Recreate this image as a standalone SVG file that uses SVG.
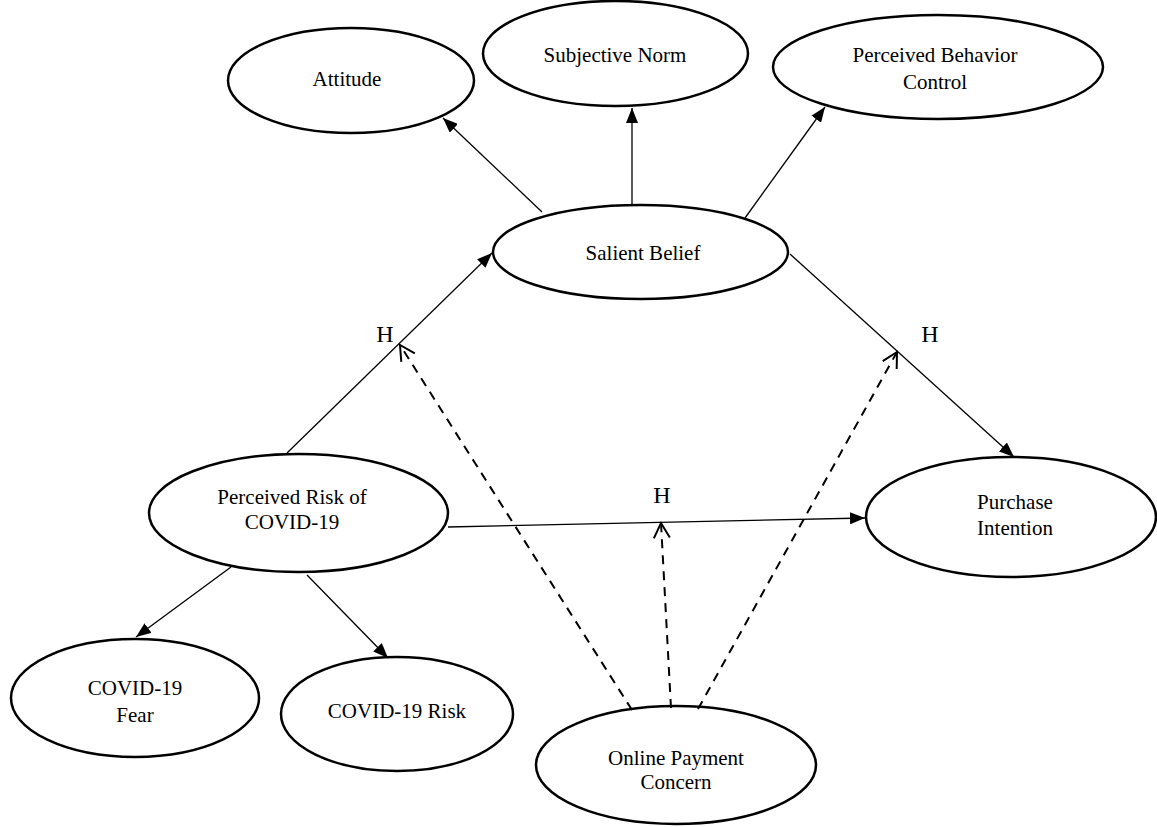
<svg xmlns="http://www.w3.org/2000/svg" width="1157" height="827" viewBox="0 0 1157 827">
<style>
.n{fill:#fff;stroke:#000;stroke-width:2.5}
.t{font-family:"Liberation Serif","Times New Roman",serif;font-size:21px;fill:#000;text-anchor:middle}
.h{font-family:"Liberation Serif","Times New Roman",serif;font-size:24px;fill:#000;text-anchor:middle}
.s{stroke:#000;stroke-width:1.3;fill:none;marker-end:url(#fa)}
.d{stroke:#000;stroke-width:2;fill:none;stroke-dasharray:9,7;marker-end:url(#oa)}
</style>
<defs>
<marker id="fa" markerUnits="userSpaceOnUse" markerWidth="16" markerHeight="12" refX="15" refY="6" orient="auto">
<path d="M0,0 L15,6 L0,12 z" fill="#000"/>
</marker>
<marker id="oa" markerUnits="userSpaceOnUse" markerWidth="18" markerHeight="20" refX="16" refY="10" orient="auto">
<path d="M1,2 L16,10 L1,18" fill="none" stroke="#000" stroke-width="2"/>
</marker>
</defs>
<rect width="1157" height="827" fill="#fff"/>
<g id="attitude"><ellipse class="n" cx="351" cy="80.5" rx="123" ry="52.5"/><text class="t" x="347" y="86">Attitude</text></g>
<g id="subjective-norm"><ellipse class="n" cx="615.5" cy="53.5" rx="132.5" ry="52.5"/><text class="t" x="615" y="62">Subjective Norm</text></g>
<g id="pbc"><ellipse class="n" cx="938" cy="67" rx="165" ry="52"/><text class="t" x="935" y="62">Perceived Behavior</text><text class="t" x="935" y="89">Control</text></g>
<g id="salient-belief"><ellipse class="n" cx="640.5" cy="252" rx="147.5" ry="47"/><text class="t" x="643" y="260">Salient Belief</text></g>
<g id="perceived-risk"><ellipse class="n" cx="298.5" cy="513" rx="149.5" ry="59"/><text class="t" x="292" y="504">Perceived Risk of</text><text class="t" x="292" y="529">COVID-19</text></g>
<g id="purchase-intention"><ellipse class="n" cx="1011" cy="517" rx="145" ry="60"/><text class="t" x="1015" y="509">Purchase</text><text class="t" x="1015" y="535">Intention</text></g>
<g id="covid-fear"><ellipse class="n" cx="135" cy="698" rx="124" ry="59"/><text class="t" x="135" y="695">COVID-19</text><text class="t" x="135" y="722">Fear</text></g>
<g id="covid-risk"><ellipse class="n" cx="397" cy="714" rx="116" ry="57"/><text class="t" x="397" y="718">COVID-19 Risk</text></g>
<g id="online-payment"><ellipse class="n" cx="676" cy="765" rx="140" ry="59"/><text class="t" x="676" y="765">Online Payment</text><text class="t" x="676" y="789">Concern</text></g>
<g id="connectors">
<line class="s" x1="542" y1="212" x2="443" y2="118"/>
<line class="s" x1="632" y1="205" x2="632" y2="108"/>
<line class="s" x1="745" y1="218" x2="825" y2="107"/>
<line class="s" x1="287" y1="453" x2="492" y2="253"/>
<line class="s" x1="790" y1="254" x2="1014" y2="457"/>
<line class="s" x1="448" y1="527" x2="865" y2="518"/>
<line class="s" x1="231" y1="567" x2="136" y2="637"/>
<line class="s" x1="307" y1="575" x2="388" y2="658"/>
<line class="d" x1="632" y1="710" x2="400" y2="345"/>
<line class="d" x1="671" y1="708" x2="661" y2="523"/>
<line class="d" x1="698" y1="709" x2="897" y2="352"/>
<text class="h" x="385" y="342">H</text>
<text class="h" x="930" y="342">H</text>
<text class="h" x="662" y="503">H</text>
</g>
</svg>
